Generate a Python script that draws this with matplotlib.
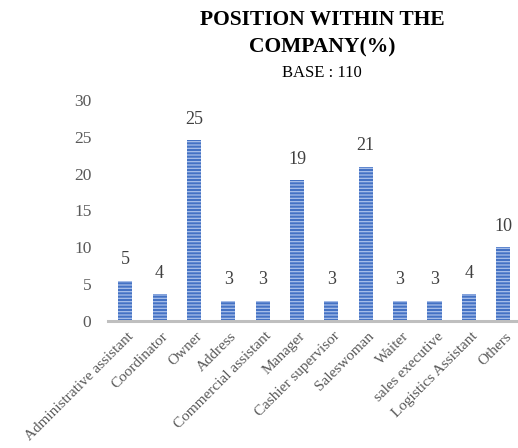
import matplotlib
matplotlib.use("Agg")
import matplotlib.pyplot as plt
import matplotlib.transforms as mtransforms

categories = ["Administrative assistant", "Coordinator", "Owner", "Address",
              "Commercial assistant", "Manager", "Cashier supervisor", "Saleswoman",
              "Waiter", "sales executive", "Logistics Assistant", "Others"]
values = [5.45, 3.64, 24.55, 2.73, 2.73, 19.09, 2.73, 20.91, 2.73, 2.73, 3.64, 10.0]
labels = ["5", "4", "25", "3", "3", "19", "3", "21", "3", "3", "4", "10"]
yticks = [0, 5, 10, 15, 20, 25, 30]

plt.rcParams['font.family'] = ['Liberation Serif', 'DejaVu Serif']
plt.rcParams['hatch.linewidth'] = 0.9

fig = plt.figure(figsize=(5.18, 4.48), dpi=100)
ax = fig.add_axes([108/518, 1-321/448, 410/518, 221/448])

x = list(range(len(categories)))
bars = ax.bar(x, values, width=0.41, color='#4472C4', edgecolor='#A9C0EA',
              linewidth=0, hatch='-----')

for xi, v, lab in zip(x, values, labels):
    ax.annotate(lab, (xi, v), xytext=(0, 9), textcoords='offset points',
                ha='center', va='bottom', fontsize=13, color='#404040')

ax.set_xlim(-0.5, 11.43)
ax.set_ylim(0, 30)
ax.set_yticks(yticks)
ax.set_yticklabels([str(t) for t in yticks], fontsize=12.5, color='#595959')
ax.tick_params(axis='y', length=0, pad=12)
ax.tick_params(axis='x', length=0, pad=2)
ax.set_xticks(x)
ax.set_xticklabels(categories, rotation=45, ha='right', va='top',
                   rotation_mode='anchor', fontsize=11, color='#595959')
offset = mtransforms.ScaledTranslation(2/100, -6/100, fig.dpi_scale_trans)
for t in ax.get_xticklabels():
    t.set_transform(t.get_transform() + offset)

for s in ['top', 'right', 'left']:
    ax.spines[s].set_visible(False)
ax.spines['bottom'].set_color('#BFBFBF')
ax.spines['bottom'].set_linewidth(2.2)

fig.text(322/518, 1-20/448, "POSITION WITHIN THE", ha='center', va='center',
         fontsize=15.5, fontweight='bold', color='#000000')
fig.text(322/518, 1-47/448, "COMPANY(%)", ha='center', va='center',
         fontsize=15.5, fontweight='bold', color='#000000')
fig.text(322/518, 1-73/448, "BASE : 110", ha='center', va='center',
         fontsize=12, color='#000000')

fig.savefig("out.png", dpi=100)
